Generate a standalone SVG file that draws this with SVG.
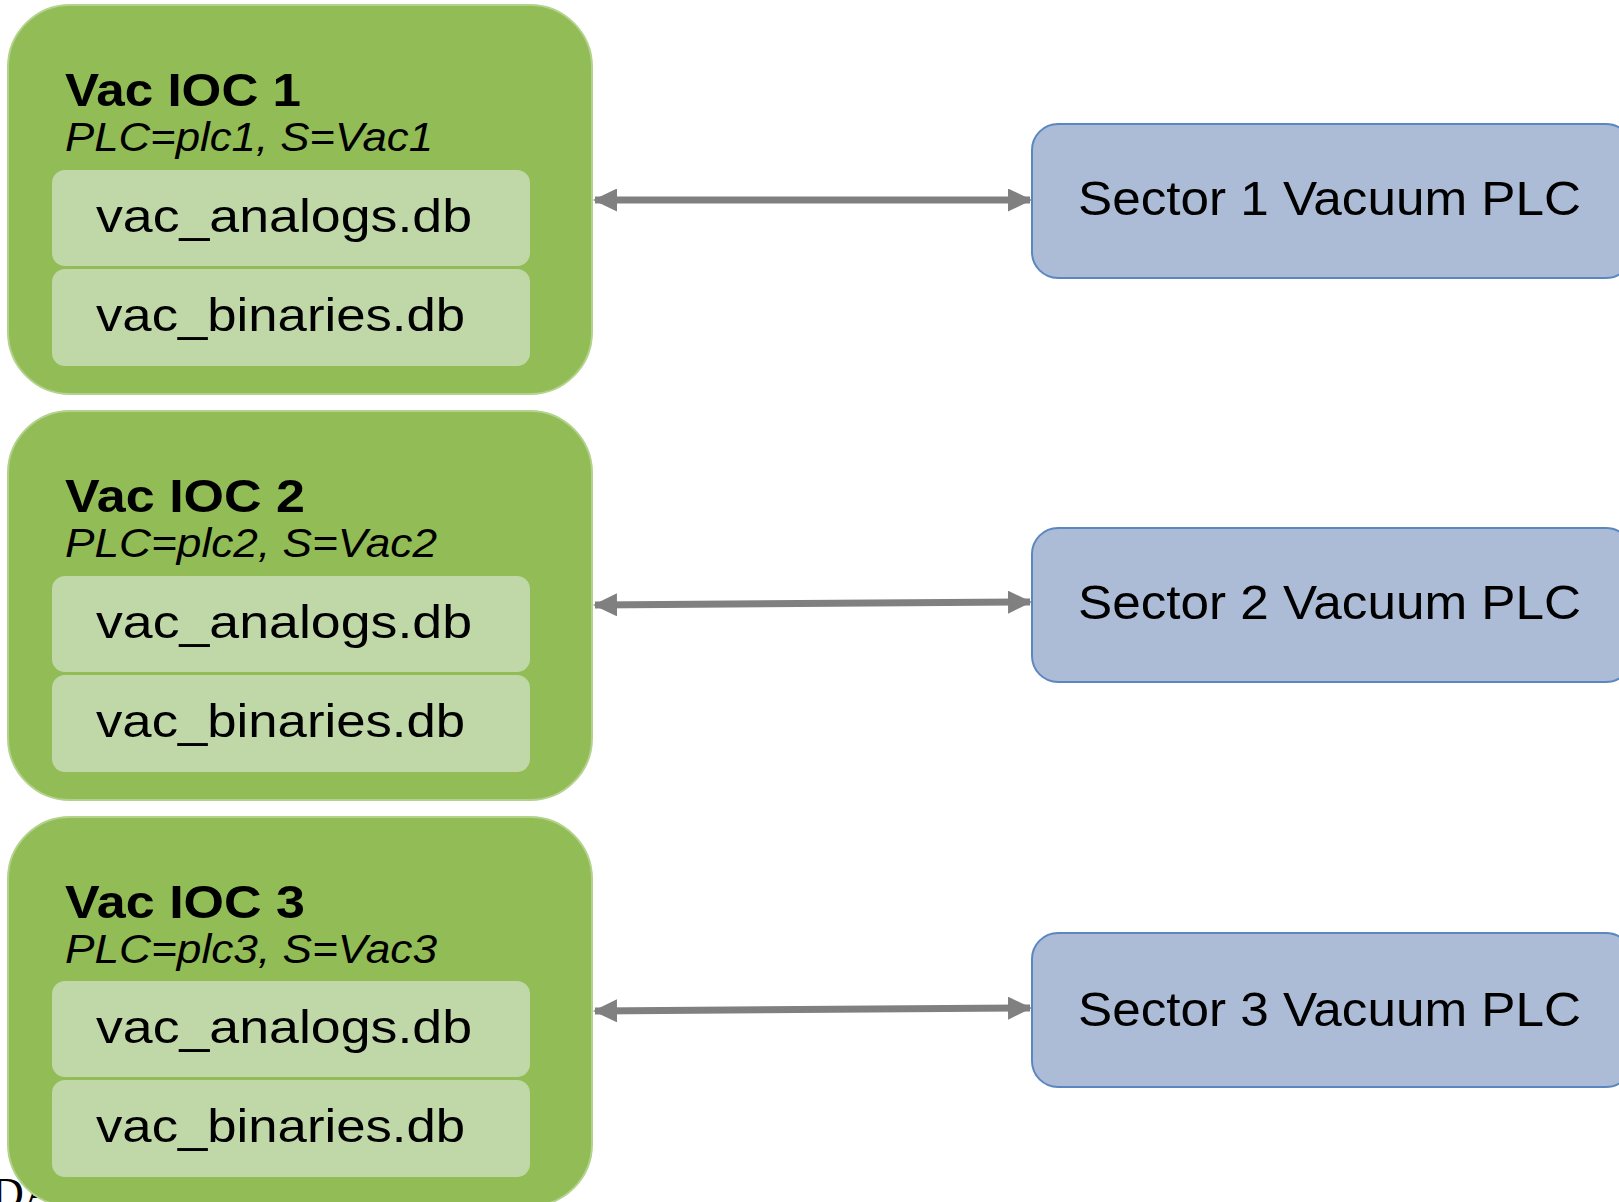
<svg xmlns="http://www.w3.org/2000/svg" width="1619" height="1202" viewBox="0 0 1619 1202">
<style>
.ioc{fill:#92bc56;stroke:#b3d28c;stroke-width:2}
.db{fill:#c0d8a8}
.plc{fill:#acbcd6;stroke:#5b87c0;stroke-width:2}
.title{font-family:"Liberation Sans",Arial,sans-serif;font-weight:bold;font-size:47px;fill:#000}
.sub{font-family:"Liberation Sans",Arial,sans-serif;font-style:italic;font-size:40px;fill:#000}
.dbt{font-family:"Liberation Sans",Arial,sans-serif;font-size:46px;fill:#000}
.plct{font-family:"Liberation Sans",Arial,sans-serif;font-size:48px;fill:#000}
.conn{stroke:#808080;stroke-width:7;fill:none}
</style>
<defs>
<marker id="ah" viewBox="0 0 24 23" refX="22" refY="11.5" markerWidth="24" markerHeight="23" markerUnits="userSpaceOnUse" orient="auto-start-reverse">
<path d="M0,0 L24,11.5 L0,23 Z" fill="#808080"/>
</marker>
</defs>
<text x="-8" y="1208" font-family="'Liberation Serif',serif" font-size="44" fill="#000">DA</text>
<g id="ioc1">
<rect class="ioc" x="8" y="5" width="584" height="389" rx="62"/>
<text class="title" x="65" y="106" textLength="236" lengthAdjust="spacingAndGlyphs">Vac IOC 1</text>
<text class="sub" x="65" y="151" textLength="368" lengthAdjust="spacingAndGlyphs">PLC=plc1, S=Vac1</text>
<rect class="db" x="52" y="170" width="478" height="96" rx="13"/>
<text class="dbt" x="96" y="232" textLength="376" lengthAdjust="spacingAndGlyphs">vac_analogs.db</text>
<rect class="db" x="52" y="269" width="478" height="97" rx="13"/>
<text class="dbt" x="96" y="331" textLength="369" lengthAdjust="spacingAndGlyphs">vac_binaries.db</text>
</g>
<g id="ioc2">
<rect class="ioc" x="8" y="411" width="584" height="389" rx="62"/>
<text class="title" x="65" y="512" textLength="240" lengthAdjust="spacingAndGlyphs">Vac IOC 2</text>
<text class="sub" x="65" y="557" textLength="372" lengthAdjust="spacingAndGlyphs">PLC=plc2, S=Vac2</text>
<rect class="db" x="52" y="576" width="478" height="96" rx="13"/>
<text class="dbt" x="96" y="638" textLength="376" lengthAdjust="spacingAndGlyphs">vac_analogs.db</text>
<rect class="db" x="52" y="675" width="478" height="97" rx="13"/>
<text class="dbt" x="96" y="737" textLength="369" lengthAdjust="spacingAndGlyphs">vac_binaries.db</text>
</g>
<g id="ioc3">
<rect class="ioc" x="8" y="817" width="584" height="389" rx="62"/>
<text class="title" x="65" y="918" textLength="240" lengthAdjust="spacingAndGlyphs">Vac IOC 3</text>
<text class="sub" x="65" y="963" textLength="372" lengthAdjust="spacingAndGlyphs">PLC=plc3, S=Vac3</text>
<rect class="db" x="52" y="981" width="478" height="96" rx="13"/>
<text class="dbt" x="96" y="1043" textLength="376" lengthAdjust="spacingAndGlyphs">vac_analogs.db</text>
<rect class="db" x="52" y="1080" width="478" height="97" rx="13"/>
<text class="dbt" x="96" y="1142" textLength="369" lengthAdjust="spacingAndGlyphs">vac_binaries.db</text>
</g>
<g id="plc1">
<rect class="plc" x="1032" y="124" width="600" height="154" rx="26"/>
<text class="plct" x="1078" y="215" textLength="503" lengthAdjust="spacingAndGlyphs">Sector 1 Vacuum PLC</text>
</g>
<g id="plc2">
<rect class="plc" x="1032" y="528" width="600" height="154" rx="26"/>
<text class="plct" x="1078" y="619" textLength="503" lengthAdjust="spacingAndGlyphs">Sector 2 Vacuum PLC</text>
</g>
<g id="plc3">
<rect class="plc" x="1032" y="933" width="600" height="154" rx="26"/>
<text class="plct" x="1078" y="1026" textLength="503" lengthAdjust="spacingAndGlyphs">Sector 3 Vacuum PLC</text>
</g>
<g id="connectors">
<line class="conn" x1="595" y1="200" x2="1030" y2="200" marker-start="url(#ah)" marker-end="url(#ah)"/>
<line class="conn" x1="595" y1="605" x2="1030" y2="602" marker-start="url(#ah)" marker-end="url(#ah)"/>
<line class="conn" x1="595" y1="1011" x2="1030" y2="1008" marker-start="url(#ah)" marker-end="url(#ah)"/>
</g>
</svg>
